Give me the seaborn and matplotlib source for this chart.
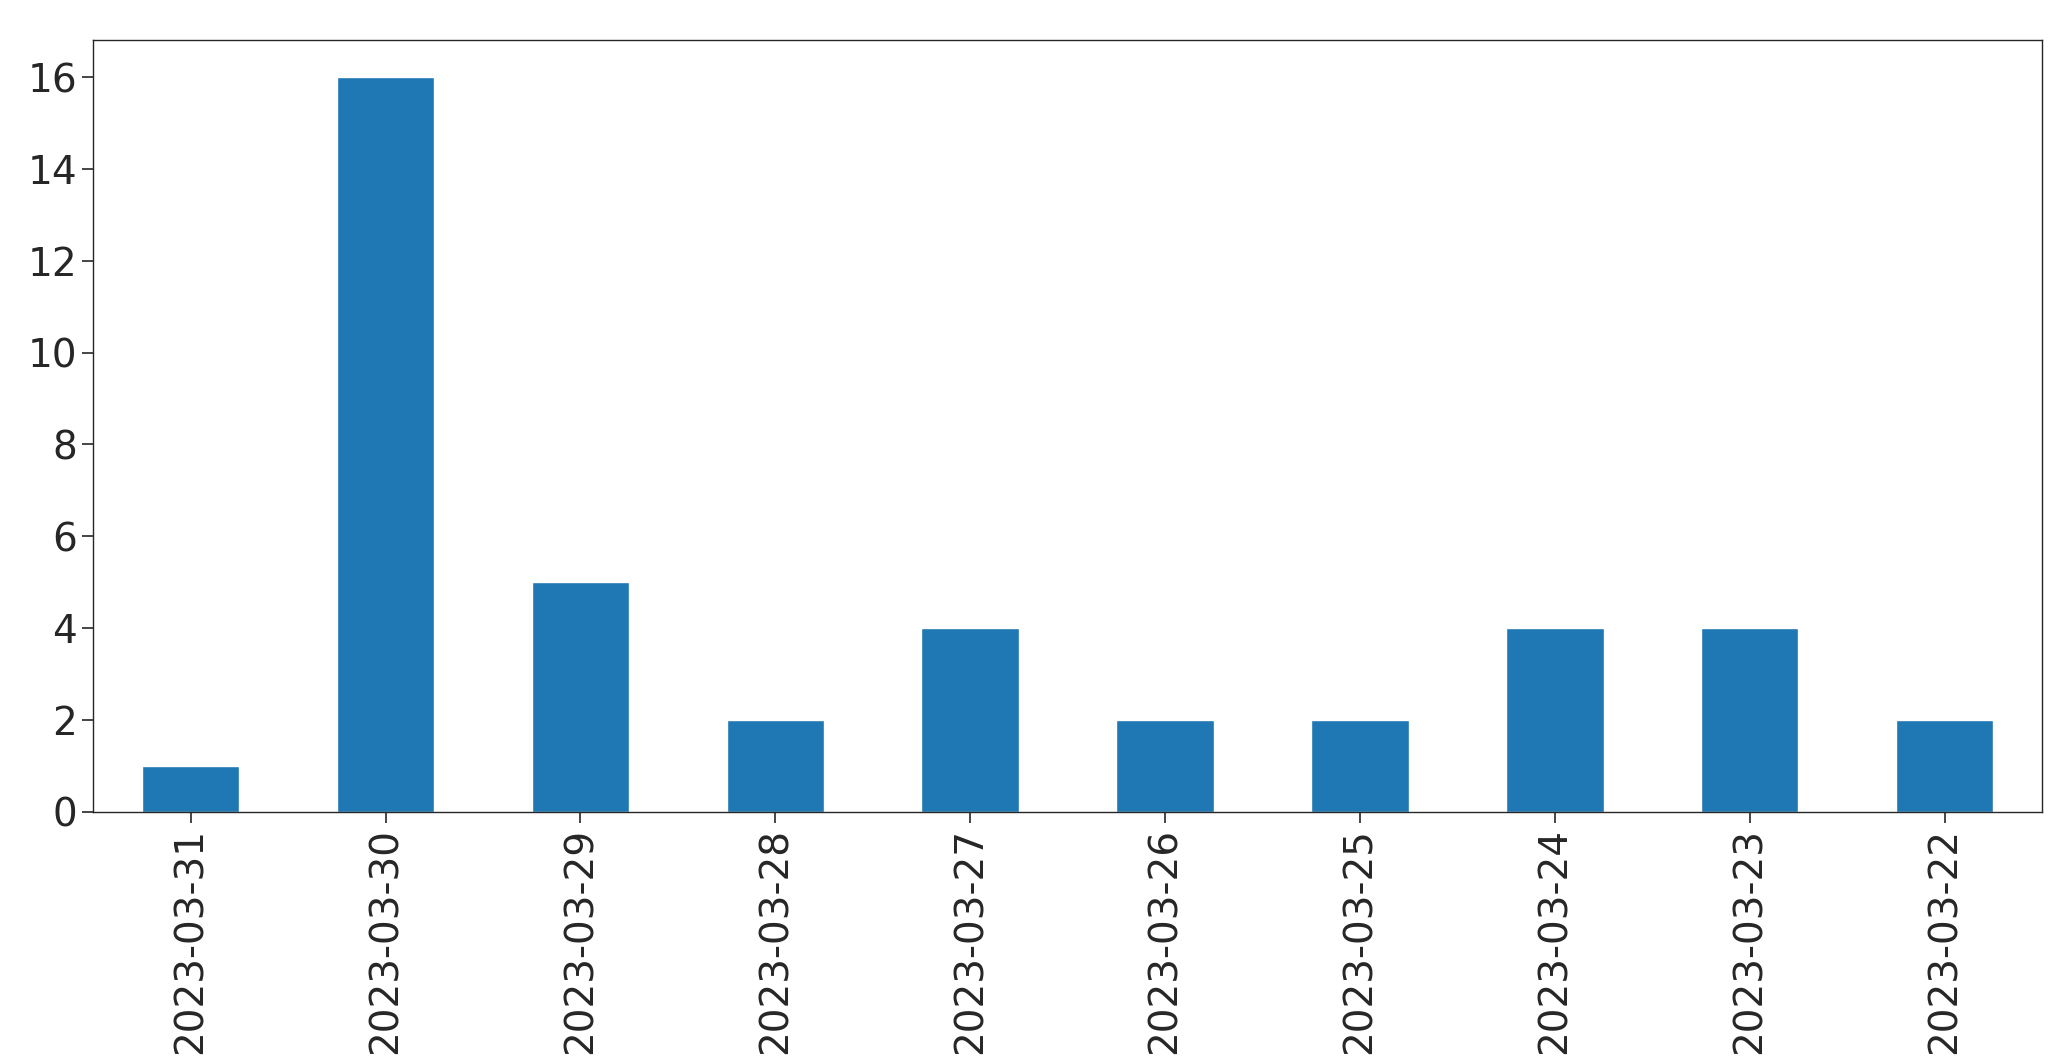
import matplotlib
matplotlib.use("Agg")
import matplotlib.pyplot as plt
import seaborn as sns
import pandas as pd

dates = ["2023-03-31", "2023-03-30", "2023-03-29", "2023-03-28", "2023-03-27",
         "2023-03-26", "2023-03-25", "2023-03-24", "2023-03-23", "2023-03-22"]
counts = [1, 16, 5, 2, 4, 2, 2, 4, 4, 2]

df = pd.DataFrame({"date": dates, "count": counts})

sns.set_style("ticks")
plt.rcParams["font.family"] = ["DejaVu Sans"]

fig = plt.figure(figsize=(20.71, 10.61), dpi=100)
ax = fig.add_axes([0.045, 0.235, 0.941, 0.727])
sns.barplot(data=df, x="date", y="count", color="#1f77b4", saturation=1,
            width=0.5, ax=ax)
ax.set_xlabel("")
ax.set_ylabel("")
ax.set_xlim(-0.5, len(dates) - 0.5)
ax.set_ylim(0, 16.8)
ax.set_yticks(range(0, 17, 2))
ax.tick_params(axis="x", labelrotation=90, labelsize=28, length=8, width=1.2)
ax.tick_params(axis="y", labelsize=28, length=8, width=1.2)
for s in ax.spines.values():
    s.set_visible(True)
    s.set_linewidth(1.0)

fig.savefig("out.png", dpi=100)
